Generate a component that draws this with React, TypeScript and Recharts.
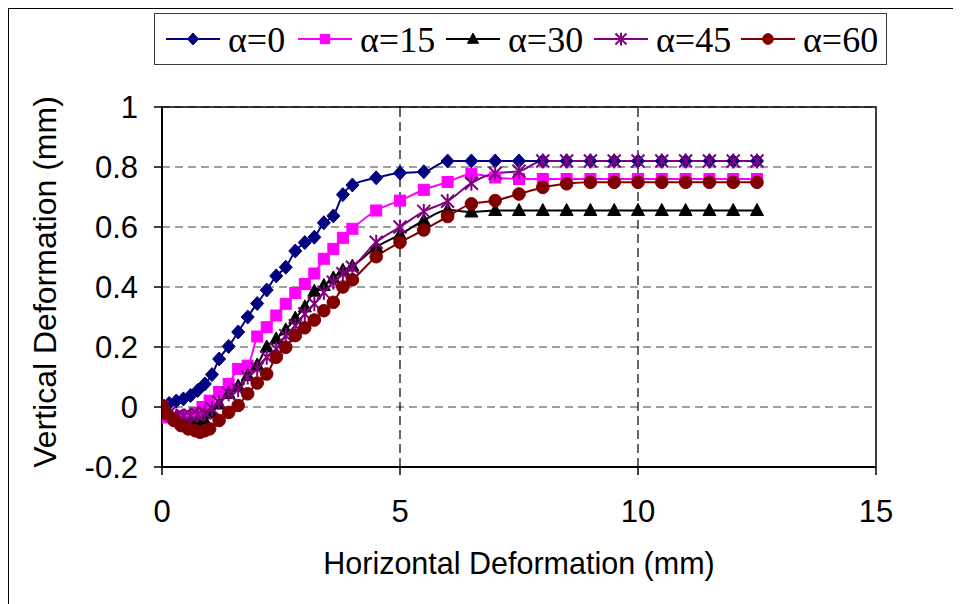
import React from 'react';
import {
  LineChart,
  Line,
  XAxis,
  YAxis,
  CartesianGrid,
  ReferenceLine,
  ReferenceArea,
  Legend,
} from 'recharts';

// ---------- data ----------
const seriesNames = ['α=0', 'α=15', 'α=30', 'α=45', 'α=60'];

const xAlpha0 = [0, 0.15, 0.3, 0.45, 0.6, 0.75, 0.9, 1.05, 1.2, 1.4, 1.6, 1.8, 2.0, 2.2, 2.4, 2.6, 2.8, 3.0, 3.2, 3.4, 3.6, 3.8, 4.0, 4.5, 5, 5.5, 6, 6.5, 7, 7.5, 8, 8.5, 9, 9.5, 10, 10.5, 11, 11.5, 12, 12.5];
const yAlpha0 = [0, 0.012, 0.02, 0.027, 0.038, 0.055, 0.077, 0.108, 0.16, 0.202, 0.25, 0.3, 0.345, 0.39, 0.437, 0.466, 0.52, 0.548, 0.566, 0.614, 0.637, 0.708, 0.74, 0.764, 0.78, 0.784, 0.82, 0.82, 0.82, 0.82, 0.82, 0.82, 0.82, 0.82, 0.82, 0.82, 0.82, 0.82, 0.82, 0.82];

const xAlpha15 = [0, 0.1, 0.3, 0.5, 0.7, 0.85, 1.0, 1.2, 1.4, 1.6, 1.8, 2.0, 2.2, 2.4, 2.6, 2.8, 3.0, 3.2, 3.4, 3.6, 3.8, 4.0, 4.5, 5, 5.5, 6, 6.5, 7, 7.5, 8, 8.5, 9, 9.5, 10, 10.5, 11, 11.5, 12, 12.5];
const yAlpha15 = [0, -0.035, -0.035, -0.03, -0.02, 0.0, 0.021, 0.05, 0.077, 0.127, 0.138, 0.235, 0.266, 0.305, 0.344, 0.38, 0.41, 0.445, 0.494, 0.527, 0.564, 0.594, 0.655, 0.688, 0.724, 0.75, 0.777, 0.765, 0.76, 0.76, 0.76, 0.76, 0.76, 0.76, 0.76, 0.76, 0.76, 0.76, 0.76];

const xAlpha30 = [0, 0.15, 0.3, 0.45, 0.6, 0.75, 0.9, 1.05, 1.2, 1.4, 1.6, 1.8, 2.0, 2.2, 2.4, 2.6, 2.8, 3.0, 3.2, 3.4, 3.6, 3.8, 4.0, 4.5, 5, 5.5, 6, 6.5, 7, 7.5, 8, 8.5, 9, 9.5, 10, 10.5, 11, 11.5, 12, 12.5];
const yAlpha30 = [0, -0.02, -0.035, -0.045, -0.05, -0.05, -0.045, -0.02, 0.01, 0.045, 0.07, 0.105, 0.14, 0.2, 0.227, 0.257, 0.296, 0.334, 0.386, 0.405, 0.43, 0.456, 0.47, 0.533, 0.575, 0.622, 0.657, 0.65, 0.655, 0.655, 0.655, 0.655, 0.655, 0.655, 0.655, 0.655, 0.655, 0.655, 0.655, 0.655];

const xAlpha45 = [0, 0.15, 0.3, 0.45, 0.6, 0.75, 0.9, 1.05, 1.2, 1.4, 1.6, 1.8, 2.0, 2.2, 2.4, 2.6, 2.8, 3.0, 3.2, 3.4, 3.6, 3.8, 4.0, 4.5, 5, 5.5, 6, 6.5, 7, 7.5, 8, 8.5, 9, 9.5, 10, 10.5, 11, 11.5, 12, 12.5];
const yAlpha45 = [0, -0.02, -0.03, -0.03, -0.028, -0.026, -0.02, -0.005, 0.016, 0.044, 0.058, 0.1, 0.127, 0.166, 0.194, 0.238, 0.271, 0.31, 0.344, 0.382, 0.416, 0.444, 0.466, 0.549, 0.6, 0.652, 0.686, 0.746, 0.779, 0.786, 0.82, 0.82, 0.82, 0.82, 0.82, 0.82, 0.82, 0.82, 0.82, 0.82];

const xAlpha60 = [0, 0.1, 0.25, 0.4, 0.55, 0.7, 0.8, 0.9, 1.0, 1.2, 1.4, 1.6, 1.8, 2.0, 2.2, 2.4, 2.6, 2.8, 3.0, 3.2, 3.4, 3.6, 3.8, 4.0, 4.5, 5, 5.5, 6, 6.5, 7, 7.5, 8, 8.5, 9, 9.5, 10, 10.5, 11, 11.5, 12, 12.5];
const yAlpha60 = [0.005, -0.023, -0.045, -0.062, -0.073, -0.079, -0.084, -0.079, -0.073, -0.045, -0.018, 0.005, 0.044, 0.08, 0.11, 0.166, 0.199, 0.238, 0.264, 0.29, 0.321, 0.349, 0.4, 0.424, 0.501, 0.549, 0.59, 0.635, 0.677, 0.688, 0.71, 0.732, 0.744, 0.749, 0.749, 0.749, 0.749, 0.749, 0.749, 0.749, 0.749];

const xTicks = [0, 5, 10, 15];
const yTicks = [-0.2, 0, 0.2, 0.4, 0.6, 0.8, 1];
const vLines = [5, 10];

const toRows = (xs: number[], ys: number[]) => xs.map((x, i) => ({ x, y: ys[i] }));

const colors = ['#000080', '#FF00FF', '#000000', '#800080', '#800000'];
const shapes = ['diamond', 'square', 'triangle', 'star', 'circle'];
const legendOffsets = [12, 144, 292, 440, 587];
const seriesData = [
  toRows(xAlpha0, yAlpha0),
  toRows(xAlpha15, yAlpha15),
  toRows(xAlpha30, yAlpha30),
  toRows(xAlpha45, yAlpha45),
  toRows(xAlpha60, yAlpha60),
];

// ---------- markers ----------
const Marker = ({ shape, cx, cy, color, s = 1 }: { shape: string; cx: number; cy: number; color: string; s?: number }) => {
  if (cx == null || cy == null || isNaN(cx) || isNaN(cy)) return null;
  switch (shape) {
    case 'diamond':
      return <polygon points={`${cx},${cy - 7 * s} ${cx + 6.5 * s},${cy} ${cx},${cy + 7 * s} ${cx - 6.5 * s},${cy}`} fill={color} stroke={color} strokeWidth={1} />;
    case 'square':
      return <rect x={cx - 5.5 * s} y={cy - 5.5 * s} width={11 * s} height={11 * s} fill={color} stroke={color} strokeWidth={1} />;
    case 'triangle':
      return <polygon points={`${cx},${cy - 7 * s} ${cx + 6.5 * s},${cy + 5 * s} ${cx - 6.5 * s},${cy + 5 * s}`} fill={color} stroke={color} strokeWidth={1} />;
    case 'star':
      return (
        <g stroke={color} strokeWidth={2} fill="none">
          <line x1={cx} y1={cy - 7.5 * s} x2={cx} y2={cy + 7.5 * s} />
          <line x1={cx - 6.5 * s} y1={cy - 6.5 * s} x2={cx + 6.5 * s} y2={cy + 6.5 * s} />
          <line x1={cx - 6.5 * s} y1={cy + 6.5 * s} x2={cx + 6.5 * s} y2={cy - 6.5 * s} />
        </g>
      );
    default:
      return <circle cx={cx} cy={cy} r={6.3 * s} fill={color} stroke={color} strokeWidth={1} />;
  }
};

const makeDot = (si: number) => (props: any) => (
  <Marker key={`d-${si}-${props.index}`} shape={shapes[si]} cx={props.cx} cy={props.cy} color={colors[si]} />
);

// ---------- legend ----------
const LegendBox = () => (
  <div
    style={{
      position: 'relative',
      boxSizing: 'border-box',
      width: 733,
      height: 52,
      border: '1px solid #3a3a3a',
      background: '#fff',
      fontFamily: '"Liberation Serif", "Times New Roman", serif',
      fontSize: 36,
      color: '#000',
      whiteSpace: 'nowrap',
    }}
  >
    {seriesNames.map((name, i) => (
      <div key={name} style={{ position: 'absolute', left: legendOffsets[i] - 1, top: 0, height: 50, display: 'flex', alignItems: 'center' }}>
        <svg width={54} height={20} style={{ display: 'block', marginRight: 8 }}>
          <line x1={0} y1={10} x2={54} y2={10} stroke={colors[i]} strokeWidth={2} />
          <Marker shape={shapes[i]} cx={27} cy={10} color={colors[i]} s={0.85} />
        </svg>
        <span style={{ lineHeight: '36px', position: 'relative', top: 1, display: 'inline-block' }}>{name}</span>
      </div>
    ))}
  </div>
);

const font = '"Liberation Sans", Arial, sans-serif';

const XTitle = (props: any) => {
  const vb = props.viewBox || {};
  return (
    <text x={vb.x + vb.width / 2} y={vb.y + 107} textAnchor="middle" fontFamily={font} fontSize={30.5} fill="#000">
      Horizontal Deformation (mm)
    </text>
  );
};

const YTitle = (props: any) => {
  const vb = props.viewBox || {};
  const cx = 47;
  const cy = vb.y + vb.height / 2 - 5;
  return (
    <text x={cx} y={cy} transform={`rotate(-90, ${cx}, ${cy})`} textAnchor="middle" fontFamily={font} fontSize={32} fill="#000">
      Vertical Deformation (mm)
    </text>
  );
};

export default function App() {
  return (
    <div
      style={{
        position: 'relative',
        width: 960,
        height: 600,
        borderLeft: '1px solid #000',
        borderTop: '1px solid #000',
        background: '#fff',
      }}
    >
      <LineChart width={952} height={595} margin={{ top: 98, right: 85, bottom: 77, left: 0 }}>
        <CartesianGrid horizontal vertical={false} stroke="#808080" strokeWidth={1.5} strokeDasharray="8 5" />
        {vLines.map((v) => (
          <ReferenceLine key={v} x={v} stroke="#000" strokeWidth={1.2} strokeDasharray="9 5" />
        ))}
        <ReferenceArea x1={0} x2={15} y1={-0.2} y2={1} fill="none" stroke="#000" strokeWidth={1.5} />
        <XAxis
          type="number"
          dataKey="x"
          domain={[0, 15]}
          ticks={xTicks}
          allowDataOverflow
          height={60}
          tickSize={8}
          tickMargin={25}
          axisLine={{ stroke: '#000', strokeWidth: 2 }}
          tickLine={{ stroke: '#000', strokeWidth: 1.5 }}
          tick={{ fill: '#000', fontSize: 31, fontFamily: font }}
          label={<XTitle />}
        />
        <YAxis
          type="number"
          dataKey="y"
          domain={[-0.2, 1]}
          ticks={yTicks}
          allowDataOverflow
          width={153}
          tickSize={8}
          tickMargin={16}
          axisLine={{ stroke: '#000', strokeWidth: 2 }}
          tickLine={{ stroke: '#000', strokeWidth: 1.5 }}
          tick={{ fill: '#000', fontSize: 31, fontFamily: font }}
          label={<YTitle />}
        />
        <Legend
          layout="horizontal"
          verticalAlign="middle"
          align="center"
          content={<LegendBox />}
          wrapperStyle={{ top: 4, left: 145, width: 733, height: 52 }}
        />
        {seriesData.map((d, i) => (
          <Line
            key={seriesNames[i]}
            name={seriesNames[i]}
            data={d}
            dataKey="y"
            type="monotone"
            stroke={colors[i]}
            strokeWidth={2}
            dot={makeDot(i)}
            activeDot={false}
            isAnimationActive={false}
          />
        ))}
      </LineChart>
    </div>
  );
}
